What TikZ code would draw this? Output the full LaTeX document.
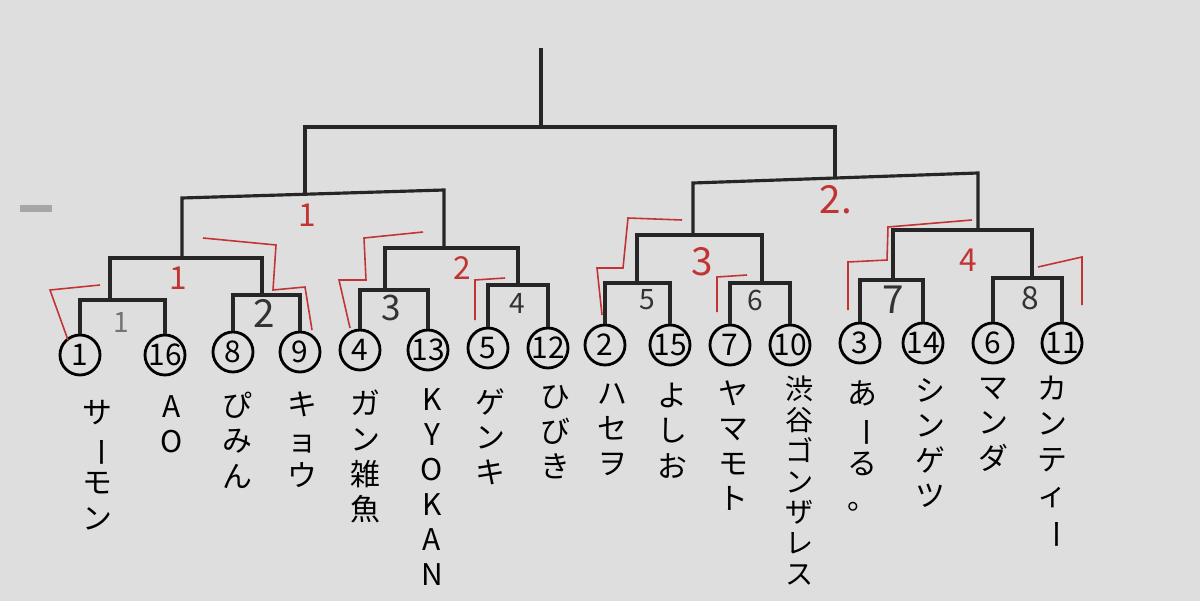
\documentclass[tikz,border=0pt]{standalone}
\usepackage{fontspec}
\newfontfamily\jp{Noto Sans CJK JP}
\begin{document}
\begin{tikzpicture}[x=0.02cm,y=-0.02cm,
  br/.style={line width=1.8pt,black!85},
  rd/.style={line width=0.9pt,red!70!black!80},
  ci/.style={circle,draw,line width=1.6pt,minimum size=40*0.02cm,inner sep=0pt,font=\jp\fontsize{17}{17}\selectfont},
  nm/.style={anchor=north,align=center,font=\jp\fontsize{17}{20}\selectfont,inner sep=0pt},
  bl/.style={font=\jp\fontsize{16}{16}\selectfont,text=black!80},
  rl/.style={font=\jp\fontsize{18}{18}\selectfont,text=red!70!black!80}]
\fill[black!13] (0,0) rectangle (1200,601);
\useasboundingbox (0,0) rectangle (1200,601);
\fill[black!35] (20,205) rectangle (52,212);
\newcommand\vb{\rotatebox[origin=c]{-90}{ー}}
\foreach \n/\x/\y in {1/80/355,16/165/355,8/233/352,9/300/352,4/360/350,13/428/350,5/488/348,12/548/348,
  2/605/345,15/670/345,7/730/345,10/790/345,3/860/343,14/923/343,6/993/343,11/1062/343}
  \node[ci] (n\n) at (\x,\y) {\n};
\node[nm] (s1) at (97,400) {サ\\\vb\\モ\\ン};
\node[nm] (s16) at (172,395) {A\\O};
\node[nm] (s8) at (237,392) {ぴ\\み\\ん};
\node[nm] (s9) at (302,392) {キ\\ョ\\ウ};
\node[nm] (s4) at (365,390) {ガ\\ン\\雑\\魚};
\node[nm] (s13) at (432,388) {K\\Y\\O\\K\\A\\N};
\node[nm] (s5) at (490,388) {ゲ\\ン\\キ};
\node[nm] (s12) at (555,385) {ひ\\び\\き};
\node[nm] (s2) at (612,383) {ハ\\セ\\ヲ};
\node[nm] (s15) at (672,383) {よ\\し\\お};
\node[nm] (s7) at (733,380) {ヤ\\マ\\モ\\ト};
\node[nm,font=\jp\fontsize{16}{17.5}\selectfont] (s10) at (800,376) {渋\\谷\\ゴ\\ン\\ザ\\レ\\ス};
\node[nm] (s3) at (862,380) {あ\\\vb\\る\\。};
\node[nm] (s14) at (930,378) {シ\\ン\\ゲ\\ツ};
\node[nm] (s6) at (993,378) {マ\\ン\\ダ};
\node[nm] (s11) at (1052,376) {カ\\ン\\テ\\ィ\\\vb};
\coordinate (a1) at (110,300); \coordinate (a2) at (262,295);
\coordinate (a3) at (385,290); \coordinate (a4) at (518,285);
\coordinate (a5) at (637,283); \coordinate (a6) at (762,283);
\coordinate (a7) at (893,280); \coordinate (a8) at (1032,278);
\coordinate (b1) at (182,258); \coordinate (b2) at (444,248);
\coordinate (b3) at (693,235); \coordinate (b4) at (978,230);
\coordinate (c1) at (182,198); \coordinate (c2) at (444,190);
\coordinate (c3) at (693,183); \coordinate (c4) at (978,173);
\coordinate (d1) at (305,127); \coordinate (d2) at (835,127);
\coordinate (top) at (541,48);
\foreach \l/\r/\m in {1/16/a1,8/9/a2,4/13/a3,5/12/a4,2/15/a5,7/10/a6,3/14/a7,6/11/a8}
  \draw[br] (n\l.north) |- (\m) -| (n\r.north);
\draw[br] (a1) |- (b1) -| (a2);
\draw[br] (a3) |- (b2) -| (a4);
\draw[br] (a5) |- (b3) -| (a6);
\draw[br] (a7) |- (b4) -| (a8);
\draw[br] (b1) -- (c1) -- (c2) -- (b2);
\draw[br] (b3) -- (c3) -- (c4) -- (b4);
\draw[br] (d1|-c1) ++(0,-3) -- (d1) -- (d2) -- (835,178);
\draw[br] (top|-d1) -- (top);
\draw[rd] (68,340) -- (50,290) -- (100,285);
\draw[rd] (312,330) -- (305,287) -- (273,290) -- (276,245) -- (203,238);
\draw[rd] (350,328) -- (339,280) -- (366,280) -- (364,238) -- (423,232);
\draw[rd] (475,320) -- (475,280) -- (505,278);
\draw[rd] (602,315) -- (597,268) -- (623,268) -- (628,218) -- (682,220);
\draw[rd] (717,312) -- (717,277) -- (747,275);
\draw[rd] (848,310) -- (848,262) -- (887,260) -- (888,227) -- (972,220);
\draw[rd] (1038,267) -- (1082,257) -- (1082,305);
\node[bl,text=black!55] (l1) at (121,322) {1};
\node[bl,font=\jp\fontsize{22}{22}\selectfont] (l2) at (264,313) {2};
\node[bl,font=\jp\fontsize{20}{20}\selectfont] (l3) at (391,308) {3};
\node[bl] (l4) at (517,303) {4};
\node[bl] (l5) at (647,300) {5};
\node[bl] (l6) at (755,300) {6};
\node[bl,font=\jp\fontsize{22}{22}\selectfont] (l7) at (893,300) {7};
\node[bl,font=\jp\fontsize{18}{18}\selectfont] (l8) at (1030,298) {8};
\node[rl] (r1) at (178,278) {1};
\node[rl] (r1b) at (307,215) {1};
\node[rl] (r2) at (462,268) {2};
\node[rl,font=\jp\fontsize{22}{22}\selectfont] (r3) at (702,262) {3};
\node[rl] (r4) at (968,260) {4};
\node[rl,font=\jp\fontsize{22}{22}\selectfont] (r2b) at (836,200) {2.};
\end{tikzpicture}
\end{document}
